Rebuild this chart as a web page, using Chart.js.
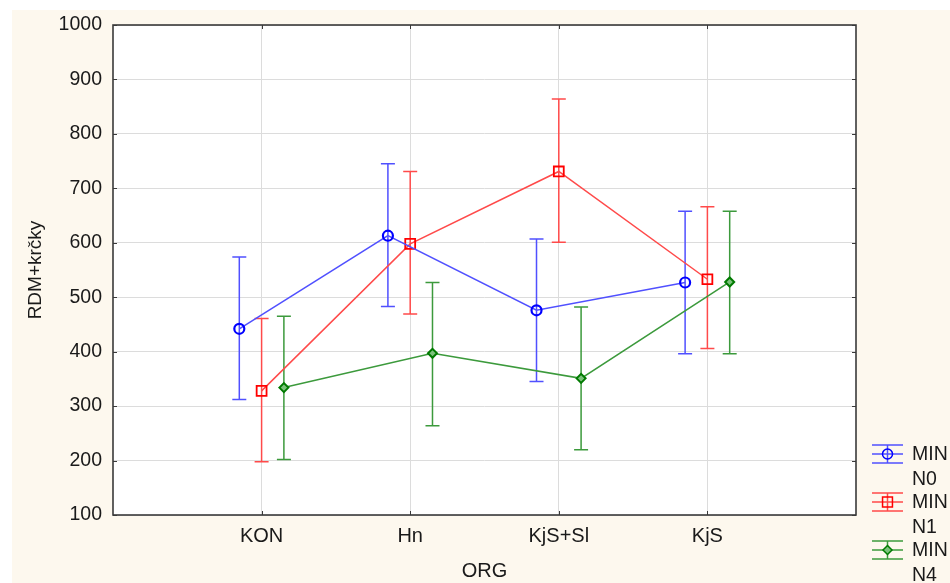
<!DOCTYPE html>
<html>
<head>
<meta charset="utf-8">
<script src="https://cdn.jsdelivr.net/npm/chart.js@4.4.0/dist/chart.umd.min.js"></script>
<style>
  html, body { margin: 0; padding: 0; background: #fff; }
  #wrap { position: relative; width: 950px; height: 583px; overflow: hidden; }
  #bg { position: absolute; left: 12px; top: 10px; right: 0; bottom: 0; background: #fdf8ee; }
  #chart { position: absolute; left: 0; top: 0; }
</style>
</head>
<body>
<div id="wrap">
  <div id="bg"></div>
  <canvas id="chart" width="950" height="583"></canvas>
</div>
<script>
// data
const categories = ["KON", "Hn", "KjS+Sl", "KjS"];
const seriesNames = [["MIN", "N0"], ["MIN", "N1"], ["MIN", "N4"]];

const meanN0 = [442, 613, 476, 527];
const upperN0 = [574, 745, 607, 658];
const lowerN0 = [312, 483, 345, 396];

const meanN1 = [328, 598, 731, 533];
const upperN1 = [461, 731, 864, 666];
const lowerN1 = [198, 469, 601, 406];

const meanN4 = [334, 397, 351, 528];
const upperN4 = [465, 527, 482, 658];
const lowerN4 = [202, 264, 220, 396];

const yMin = 100, yMax = 1000, yStep = 100;

const FONT = "'Liberation Sans', Arial, sans-serif";
const TEXT = "#1a1a1a";

function pts(means, shift) {
  return means.map((v, i) => ({ x: i + 1 + shift, y: v }));
}

const errorBars = {
  id: "errorBars",
  beforeDatasetsDraw(chart) {
    const { ctx, scales: { x, y } } = chart;
    chart.data.datasets.forEach(ds => {
      ctx.save();
      ctx.strokeStyle = ds.borderColor;
      ctx.lineWidth = 1.5;
      ds.data.forEach((p, j) => {
        const px = x.getPixelForValue(p.x);
        const top = y.getPixelForValue(ds.upper[j]);
        const bot = y.getPixelForValue(ds.lower[j]);
        ctx.beginPath();
        ctx.moveTo(px, top); ctx.lineTo(px, bot);
        ctx.moveTo(px - 7, top); ctx.lineTo(px + 7, top);
        ctx.moveTo(px - 7, bot); ctx.lineTo(px + 7, bot);
        ctx.stroke();
      });
      ctx.restore();
    });
  }
};

const plotFrame = {
  id: "plotFrame",
  beforeDraw(chart) {
    const { ctx, chartArea: a } = chart;
    ctx.save();
    ctx.fillStyle = "#ffffff";
    ctx.fillRect(a.left, a.top, a.right - a.left, a.bottom - a.top);
    ctx.restore();
  },
  afterDraw(chart) {
    const { ctx, chartArea: a, scales: { x, y } } = chart;
    ctx.save();
    ctx.strokeStyle = "#3a3a3a";
    ctx.lineWidth = 1;
    ctx.beginPath();
    x.ticks.forEach(t => {
      const px = Math.round(x.getPixelForValue(t.value)) + 0.5;
      ctx.moveTo(px, a.bottom); ctx.lineTo(px, a.bottom - 4);
      ctx.moveTo(px, a.top); ctx.lineTo(px, a.top + 4);
    });
    y.ticks.forEach(t => {
      const py = Math.round(y.getPixelForValue(t.value)) + 0.5;
      ctx.moveTo(a.left, py); ctx.lineTo(a.left + 4, py);
      ctx.moveTo(a.right, py); ctx.lineTo(a.right - 4, py);
    });
    ctx.stroke();
    ctx.lineWidth = 1.6;
    ctx.strokeRect(a.left, a.top, a.right - a.left, a.bottom - a.top);
    ctx.restore();
  }
};

const sideLegend = {
  id: "sideLegend",
  afterDraw(chart) {
    const { ctx } = chart;
    chart.data.datasets.forEach((ds, i) => {
      const cy = 454 + i * 48;
      const cx = 887.5;
      ctx.save();
      ctx.strokeStyle = ds.borderColor;
      ctx.lineWidth = 1.5;
      ctx.beginPath();
      ctx.moveTo(872, cy - 9); ctx.lineTo(903, cy - 9);
      ctx.moveTo(872, cy); ctx.lineTo(903, cy);
      ctx.moveTo(872, cy + 9); ctx.lineTo(903, cy + 9);
      ctx.moveTo(cx, cy - 9); ctx.lineTo(cx, cy + 9);
      ctx.stroke();
      ctx.strokeStyle = ds.pointBorderColor;
      ctx.fillStyle = ds.pointBackgroundColor;
      Chart.helpers.drawPoint(ctx, {
        pointStyle: ds.pointStyle,
        radius: ds.pointRadius,
        borderWidth: ds.pointBorderWidth,
        rotation: 0
      }, cx, cy);
      ctx.fillStyle = TEXT;
      ctx.font = "19.5px " + FONT;
      ctx.textBaseline = "middle";
      ctx.textAlign = "left";
      ds.label.forEach((line, k) => ctx.fillText(line, 912, cy + 1 + k * 25));
      ctx.restore();
    });
  }
};

new Chart(document.getElementById("chart"), {
  type: "line",
  data: {
    datasets: [
      {
        label: seriesNames[0], data: pts(meanN0, -0.15), upper: upperN0, lower: lowerN0,
        borderColor: "#5050ff", borderWidth: 1.5,
        pointStyle: "circle", pointRadius: 5, pointBorderWidth: 2.2,
        pointBorderColor: "#0000ff", pointBackgroundColor: "rgba(0,0,0,0)"
      },
      {
        label: seriesNames[1], data: pts(meanN1, 0), upper: upperN1, lower: lowerN1,
        borderColor: "#ff4a4a", borderWidth: 1.5,
        pointStyle: "rect", pointRadius: 7, pointBorderWidth: 1.8,
        pointBorderColor: "#ff0000", pointBackgroundColor: "rgba(0,0,0,0)"
      },
      {
        label: seriesNames[2], data: pts(meanN4, 0.15), upper: upperN4, lower: lowerN4,
        borderColor: "#3c9a3c", borderWidth: 1.5,
        pointStyle: "rectRot", pointRadius: 4.5, pointBorderWidth: 2,
        pointBorderColor: "#007a00", pointBackgroundColor: "#7cc27c"
      }
    ]
  },
  options: {
    responsive: false,
    animation: false,
    devicePixelRatio: 1,
    layout: { padding: { left: 18, right: 94, top: 25, bottom: 0 } },
    plugins: { legend: { display: false }, tooltip: { enabled: false } },
    elements: { line: { tension: 0 } },
    scales: {
      x: {
        type: "linear",
        min: 0,
        max: 5,
        afterBuildTicks: scale => { scale.ticks = categories.map((c, i) => ({ value: i + 1 })); },
        afterFit: scale => { scale.height = 68; },
        ticks: {
          callback: v => categories[v - 1],
          font: { family: FONT, size: 20 },
          color: TEXT,
          padding: 9,
          autoSkip: false,
          maxRotation: 0
        },
        grid: { color: "#dcdcdc", lineWidth: 1, drawTicks: false },
        border: { display: false },
        title: {
          display: true,
          text: "ORG",
          font: { family: FONT, size: 20 },
          color: TEXT,
          padding: { top: 0, bottom: 0 }
        }
      },
      y: {
        min: yMin,
        max: yMax,
        afterFit: scale => { scale.width = 95; },
        ticks: {
          stepSize: yStep,
          callback: v => String(v),
          font: { family: FONT, size: 19.5 },
          color: TEXT,
          padding: 11
        },
        grid: { color: "#dcdcdc", lineWidth: 1, drawTicks: false },
        border: { display: false },
        title: {
          display: true,
          text: "RDM+krčky",
          font: { family: FONT, size: 19 },
          color: TEXT,
          padding: { top: 6.6, bottom: 0 }
        }
      }
    }
  },
  plugins: [errorBars, plotFrame, sideLegend]
});
</script>
</body>
</html>
